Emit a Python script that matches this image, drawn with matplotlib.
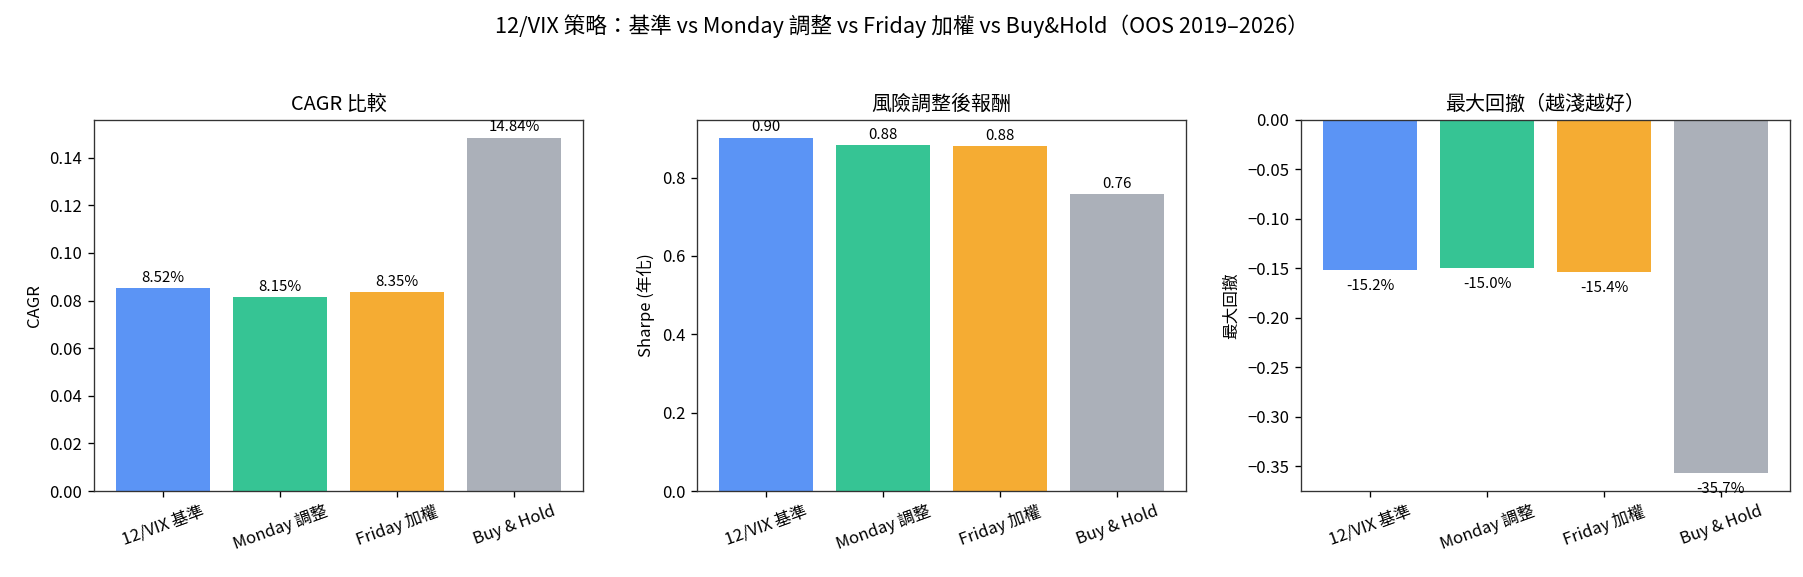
import matplotlib
matplotlib.use("Agg")
import matplotlib.pyplot as plt

plt.rcParams['font.family'] = ['Noto Sans CJK TC', 'DejaVu Sans']
plt.rcParams['axes.unicode_minus'] = True

strategies = ["12/VIX 基準", "Monday 調整", "Friday 加權", "Buy & Hold"]
colors = ["#5B94F5", "#36C494", "#F5AC33", "#ABB0B9"]
cagr = [0.0852, 0.0815, 0.0835, 0.1484]
sharpe = [0.902, 0.883, 0.880, 0.757]
max_dd = [-0.152, -0.150, -0.154, -0.357]

dpi = 120
fig = plt.figure(figsize=(1803 / dpi, 577 / dpi), dpi=dpi)
fig.suptitle("12/VIX 策略：基準 vs Monday 調整 vs Friday 加權 vs Buy&Hold（OOS 2019–2026）",
             fontsize=13, y=0.975)

W, H = 1803, 577
lefts = [94, 697, 1301]
aw = 489
top, bot = 120, 491
axes = [fig.add_axes([l / W, 1 - bot / H, aw / W, (bot - top) / H]) for l in lefts]

x = range(len(strategies))

ax = axes[0]
bars = ax.bar(x, cagr, color=colors, width=0.8)
for b, v in zip(bars, cagr):
    ax.annotate(f"{v:.2%}", (b.get_x() + b.get_width() / 2, v), xytext=(0, 2),
                textcoords="offset points", ha="center", va="bottom", fontsize=9)
ax.set_title("CAGR 比較", fontsize=12)
ax.set_ylabel("CAGR")

ax = axes[1]
bars = ax.bar(x, sharpe, color=colors, width=0.8)
for b, v in zip(bars, sharpe):
    ax.annotate(f"{v:.2f}", (b.get_x() + b.get_width() / 2, v), xytext=(0, 2),
                textcoords="offset points", ha="center", va="bottom", fontsize=9)
ax.set_title("風險調整後報酬", fontsize=12)
ax.set_ylabel("Sharpe (年化)")

ax = axes[2]
bars = ax.bar(x, max_dd, color=colors, width=0.8)
for b, v in zip(bars, max_dd):
    ax.annotate(f"{v:.1%}", (b.get_x() + b.get_width() / 2, v), xytext=(0, -5),
                textcoords="offset points", ha="center", va="top", fontsize=9)
ax.set_title("最大回撤（越淺越好）", fontsize=12)
ax.set_ylabel("最大回撤")

for ax in axes:
    ax.set_xticks(list(x))
    ax.set_xticklabels(strategies, rotation=20)
    for s in ax.spines.values():
        s.set_color("#333333")

fig.savefig("out.png", dpi=dpi)
